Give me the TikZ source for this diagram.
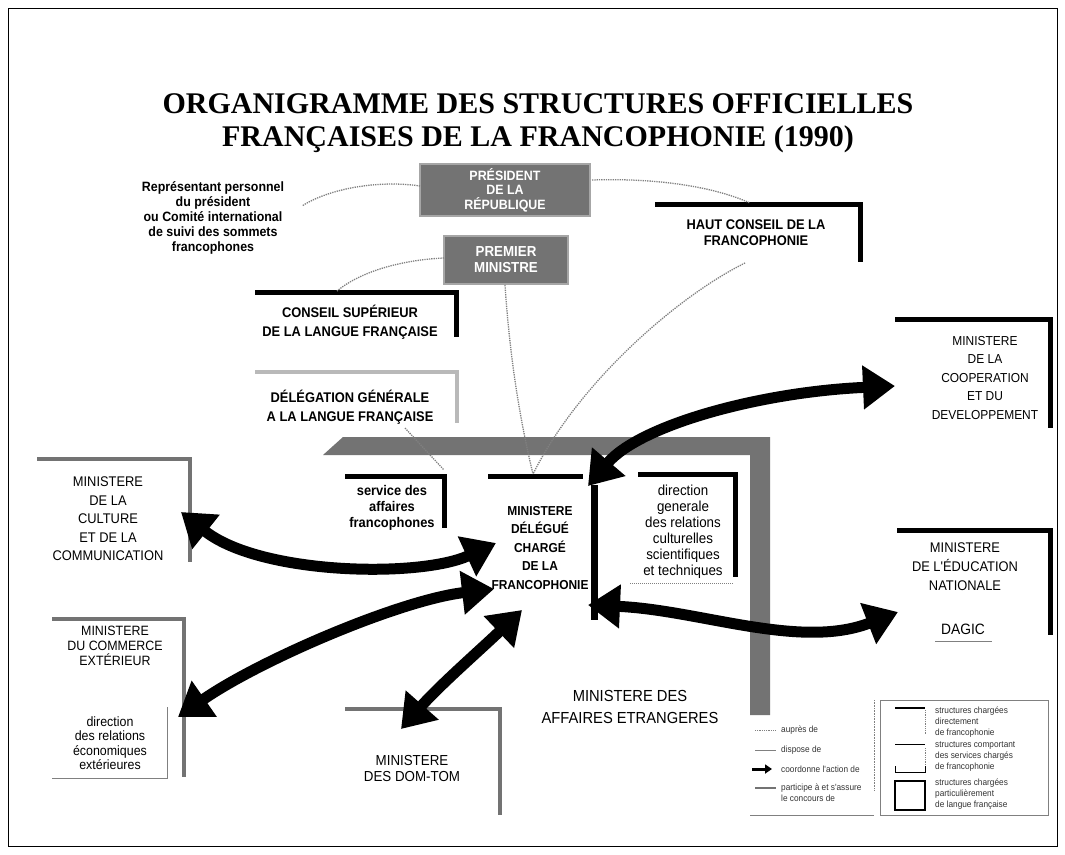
\documentclass[tikz,border=0pt]{standalone}
\usepackage{fontspec}
\setmainfont{Liberation Serif}
\newfontfamily\cond[FakeStretch=0.92]{Liberation Sans}
\usetikzlibrary{arrows.meta}
\definecolor{half}{gray}{0.45}
\definecolor{dotgray}{gray}{0.5}
\begin{document}
\begin{tikzpicture}[x=1pt,y=-1pt,
  txt/.style={align=center, inner sep=0pt, font=\cond\fontsize{14}{18.5}\selectfont},
  txtb/.style={align=center, inner sep=0pt, font=\cond\bfseries\fontsize{14}{18.5}\selectfont},
  blk/.style={draw=black, line width=5pt, line join=miter},
  gry/.style={draw=half, line width=4.5pt, line join=miter},
  dotc/.style={draw=dotgray, densely dotted, line width=1.3pt},
  thinl/.style={draw=dotgray, line width=0.8pt},
  bigarrow/.style={draw=black, line width=11pt, arrows={Triangle[length=32pt,width=42pt]-Triangle[length=32pt,width=42pt]}},
  greybox/.style={fill=half, draw=gray!70, line width=2pt, text=white, align=center, inner sep=2pt, font=\cond\bfseries\fontsize{13.5}{14.5}\selectfont},
  legtxt/.style={anchor=west, align=left, inner sep=0pt, text=black!80, font=\cond\fontsize{9}{11}\selectfont}
]
\useasboundingbox (0,0) rectangle (1065,854);
\draw[line width=1pt] (8,8) rectangle (1057,846);

% title
\node[font=\bfseries\fontsize{30}{33}\selectfont, align=center, inner sep=0pt] (title) at (538,123)
  {ORGANIGRAMME DES STRUCTURES OFFICIELLES\\FRANÇAISES DE LA FRANCOPHONIE (1990)};

% top grey boxes
\node[greybox, minimum width=170pt, minimum height=52pt] (pres) at (505,190) {PRÉSIDENT\\DE LA\\RÉPUBLIQUE};
\node[greybox, minimum width=124pt, minimum height=48pt, font=\cond\bfseries\fontsize{14.5}{16}\selectfont] (prem) at (506,260) {PREMIER\\MINISTRE};

\node[txtb, font=\cond\bfseries\fontsize{13.5}{15}\selectfont] (rep) at (213,218)
  {Représentant personnel\\du président\\ou Comité international\\de suivi des sommets\\francophones};

% Haut conseil
\draw[blk] (655,204) -- (860,204) -- (860,262);
\node[txtb, font=\cond\bfseries\fontsize{14}{16}\selectfont] (hcf) at (756,233) {HAUT CONSEIL DE LA\\FRANCOPHONIE};

% Cooperation
\draw[blk] (895,319) -- (1050,319) -- (1050,428);
\node[txt, font=\cond\fontsize{13}{18.5}\selectfont] (coop) at (985,378) {MINISTERE\\DE LA\\COOPERATION\\ET DU\\DEVELOPPEMENT};

% Conseil superieur
\draw[blk] (255,292) -- (456,292) -- (456,337);
\node[txtb] (csl) at (350,322) {CONSEIL SUPÉRIEUR\\DE LA LANGUE FRANÇAISE};

% Delegation generale
\draw[gry, draw=gray!55] (255,372) -- (457,372) -- (457,423);
\node[txtb] (dglf) at (350,407) {DÉLÉGATION GÉNÉRALE\\A LA LANGUE FRANÇAISE};

% Culture
\draw[gry] (37,459) -- (190,459) -- (190,562);
\node[txt] (mcc) at (108,519) {MINISTERE\\DE LA\\CULTURE\\ET DE LA\\COMMUNICATION};

% Commerce exterieur
\draw[gry] (52,619) -- (184,619) -- (184,777);
\node[txt, font=\cond\fontsize{13.5}{15}\selectfont] (mce) at (115,646) {MINISTERE\\DU COMMERCE\\EXTÉRIEUR};
\draw[thinl] (167,707) -- (167,778) -- (52,778);
\node[txt, font=\cond\fontsize{13.5}{14.5}\selectfont] (dree) at (110,743) {direction\\des relations\\économiques\\extérieures};

% DOM-TOM
\draw[gry] (345,709) -- (500,709) -- (500,815);
\node[txt, font=\cond\fontsize{14.5}{16}\selectfont] (domtom) at (412,768) {MINISTERE\\DES DOM-TOM};

% Education nationale
\draw[blk] (897,530) -- (1050,530) -- (1050,635);
\node[txt, font=\cond\fontsize{14}{19}\selectfont] (men) at (965,567) {MINISTERE\\DE L'ÉDUCATION\\NATIONALE};
\node[txt, font=\cond\fontsize{15}{17}\selectfont] (dagic) at (963,629) {DAGIC};
\draw[thinl] (935,641) -- (992,641);

% Affaires etrangeres
\fill[half] (323,455) -- (343,437) -- (770,437) -- (770,715) -- (750,715) -- (750,455) -- cycle;
\node[txt, font=\cond\fontsize{16}{22}\selectfont] (mae) at (630,707) {MINISTERE DES\\AFFAIRES ETRANGERES};

% service des affaires francophones
\draw[blk] (345,476) -- (444,476) -- (444,528);
\node[txtb, font=\cond\bfseries\fontsize{14}{16}\selectfont] (saf) at (392,508) {service des\\affaires\\francophones};

% ministere delegue
\draw[blk] (488,476) -- (583,476);
\draw[blk, line width=7pt] (594,485) -- (594,620);
\node[txtb, font=\cond\bfseries\fontsize{13}{18.5}\selectfont] (mdc) at (540,548) {MINISTERE\\DÉLÉGUÉ\\CHARGÉ\\DE LA\\FRANCOPHONIE};

% direction generale des relations culturelles
\draw[blk] (638,474) -- (735,474) -- (735,577);
\draw[dotc, line width=1pt] (630,583) -- (733,583);
\node[txt, font=\cond\fontsize{14.5}{16}\selectfont] (dg) at (683,532) {direction\\generale\\des relations\\culturelles\\scientifiques\\et techniques};

% dotted links
\coordinate (p1) at (420,186);
\coordinate (r1) at (302,206);
\coordinate (p2) at (592,180);
\coordinate (h1) at (750,203);
\coordinate (pm1) at (444,258);
\coordinate (c1) at (337,291);
\coordinate (h2) at (745,263);
\coordinate (m1) at (533,474);
\coordinate (pm2) at (505,285);
\coordinate (dl1) at (405,428);
\coordinate (s1) at (444,470);
\draw[dotc] (p1) .. controls (380,180) and (330,188) .. (r1);
\draw[dotc] (p2) .. controls (650,178) and (710,185) .. (h1);
\draw[dotc] (pm1) .. controls (400,260) and (360,272) .. (c1);
\draw[dotc] (h2) .. controls (680,295) and (580,380) .. (m1);
\draw[dotc] (pm2) .. controls (510,360) and (520,420) .. (m1);
\draw[dotc] (dl1) -- (s1);

% big arrows
\coordinate (a1s) at (588,486);
\coordinate (a1e) at (895,386);
\coordinate (a2s) at (181,512);
\coordinate (a2e) at (496,543);
\coordinate (a3s) at (178,717);
\coordinate (a3e) at (494,589);
\coordinate (a4s) at (401,729);
\coordinate (a4e) at (522,610);
\coordinate (a5s) at (588,605);
\coordinate (a5e) at (898,612);
\draw[bigarrow] (a1s) .. controls (640,425) and (760,392) .. (a1e);
\draw[bigarrow] (a2s) .. controls (260,575) and (420,578) .. (a2e);
\draw[bigarrow] (a3s) .. controls (260,660) and (400,600) .. (a3e);
\draw[bigarrow] (a4s) .. controls (440,685) and (480,650) .. (a4e);
\draw[bigarrow] (a5s) .. controls (700,610) and (800,650) .. (a5e);

% legend, left part
\draw[dotc, line width=0.8pt] (755,730) -- (776,730);
\node[legtxt] (l1) at (781,730) {auprès de};
\draw[thinl] (755,750) -- (776,750);
\node[legtxt] (l2) at (781,750) {dispose de};
\draw[black, line width=3pt, -{Triangle[length=7pt,width=9pt]}] (752,769) -- (772,769);
\node[legtxt] (l3) at (781,769) {coordonne l'action de};
\draw[half, line width=1.5pt] (755,788) -- (776,788);
\node[legtxt] (l4) at (781,793) {participe à et s'assure\\le concours de};
\draw[thinl] (750,815) -- (874,815);
\draw[dotc, line width=0.6pt] (874,700) -- (874,790);

% legend, right part
\draw[thinl] (880,700) rectangle (1048,815);
\draw[black, line width=2pt] (895,708) -- (925,708);
\draw[dotc, line width=0.8pt] (925,710) -- (925,735);
\node[legtxt] (k1) at (935,722) {structures chargées\\directement\\de francophonie};
\draw[black, line width=1pt] (895,744) -- (925,744);
\draw[dotc, line width=0.8pt] (925,748) -- (925,768);
\draw[black, line width=1pt] (895,766) -- (895,772) -- (925,772) -- (925,766);
\node[legtxt] (k2) at (935,757) {structures comportant\\des services chargés\\de francophonie};
\draw[black, line width=2pt] (895,781) rectangle (925,810);
\node[legtxt] (k3) at (935,794) {structures chargées\\particulièrement\\de langue française};
\end{tikzpicture}
\end{document}
